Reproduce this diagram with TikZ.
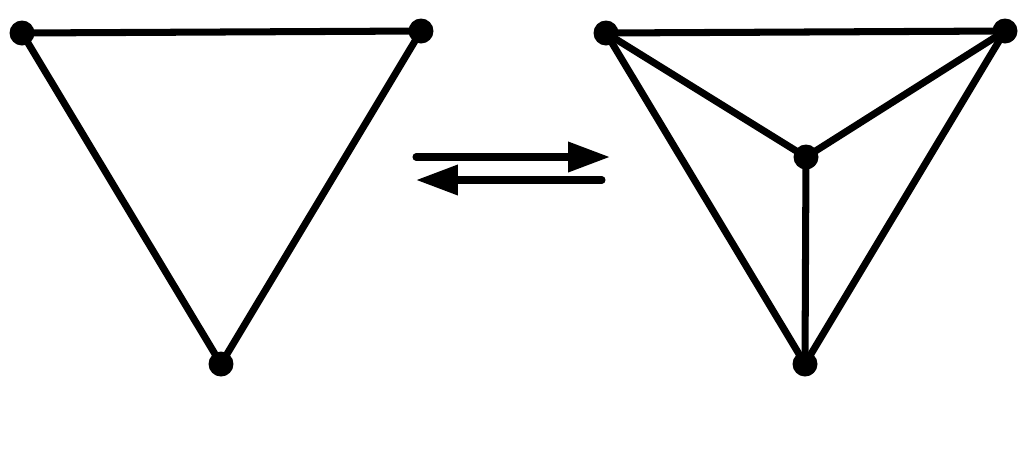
\documentclass[tikz,border=0pt]{standalone}
\usepackage{tikz}
\usetikzlibrary{arrows.meta}

\begin{document}
\begin{tikzpicture}[
    x=0.02cm, y=-0.02cm,
    vertex/.style={circle, fill=black, inner sep=0pt, minimum size=0.5cm},
    edge/.style={line width=4pt},
    arrow/.style={line width=4pt, line cap=round, -{Triangle[length=0.84cm, width=0.58cm]}}
]
    \useasboundingbox (0,0) rectangle (1032,461);

    % Left triangle
    \node[vertex] (l1) at (22,33) {};
    \node[vertex] (l2) at (421,31) {};
    \node[vertex] (l3) at (221,364) {};
    \draw[edge] (l1.center) -- (l2.center) -- (l3.center) -- cycle;

    % Right triangle with centre vertex
    \node[vertex] (r1) at (606,33) {};
    \node[vertex] (r2) at (1005,31) {};
    \node[vertex] (r3) at (805,364) {};
    \node[vertex] (r4) at (806,157) {};
    \draw[edge] (r1.center) -- (r2.center) -- (r3.center) -- cycle;
    \draw[edge] (r1.center) -- (r4.center);
    \draw[edge] (r2.center) -- (r4.center);
    \draw[edge] (r3.center) -- (r4.center);

    % Arrows
    \coordinate (fwd-start) at (416,157);
    \coordinate (fwd-end) at (610,157);
    \coordinate (back-start) at (602,180);
    \coordinate (back-end) at (416,180);
    \draw[arrow] (fwd-start) -- (fwd-end);
    \draw[arrow] (back-start) -- (back-end);
\end{tikzpicture}
\end{document}
